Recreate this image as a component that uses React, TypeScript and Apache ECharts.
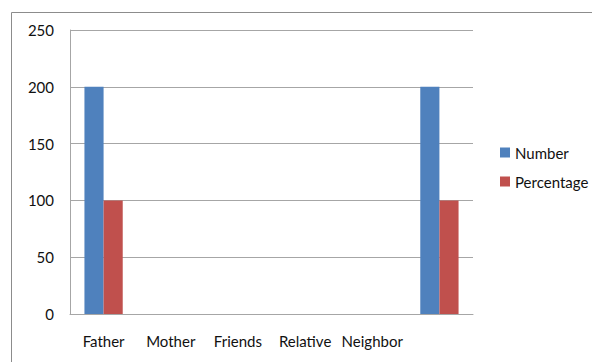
import React, { useEffect, useRef } from "react";
import * as echarts from "echarts";

const categories = ["Father", "Mother", "Friends", "Relative", "Neighbor", ""];
const numberValues = [200, 0, 0, 0, 0, 200];
const percentageValues = [100, 0, 0, 0, 0, 100];
const yTicks = { min: 0, max: 250, interval: 50 };

const FONT = "Lato, 'Open Sans', sans-serif";
const TEXT = "#111111";

export default function App() {
  const ref = useRef<HTMLDivElement>(null);

  useEffect(() => {
    if (!ref.current) return;
    const chart = echarts.init(ref.current, undefined, { renderer: "svg" });
    chart.setOption({
      animation: false,
      backgroundColor: "#ffffff",
      textStyle: { fontFamily: FONT },
      graphic: [
        {
          type: "rect",
          shape: { x: 11.5, y: 12.5, width: 600, height: 400 },
          style: { fill: "none", stroke: "#8c8c8c", lineWidth: 1 },
          silent: true,
          z: -1,
        },
      ],
      grid: { left: 70, top: 30, width: 403, height: 284, containLabel: false },
      legend: {
        orient: "vertical",
        left: 500,
        top: 145,
        padding: 0,
        itemWidth: 10,
        itemHeight: 10,
        itemGap: 14,
        icon: "rect",
        textStyle: { fontFamily: FONT, fontSize: 15, color: TEXT },
        data: ["Number", "Percentage"],
      },
      xAxis: {
        type: "category",
        data: categories,
        axisLine: { show: true, lineStyle: { color: "#a6a6a6", width: 1 } },
        axisTick: { show: false },
        axisLabel: { fontFamily: FONT, fontSize: 15, color: TEXT, margin: 19, interval: 0 },
      },
      yAxis: {
        type: "value",
        min: yTicks.min,
        max: yTicks.max,
        interval: yTicks.interval,
        axisLine: { show: true, lineStyle: { color: "#a6a6a6", width: 1 } },
        axisTick: { show: false },
        axisLabel: { fontFamily: FONT, fontSize: 15, color: TEXT, margin: 16 },
        splitLine: { show: true, lineStyle: { color: "#a6a6a6", width: 1 } },
      },
      series: [
        {
          name: "Number",
          type: "bar",
          data: numberValues,
          itemStyle: { color: "#4f81bd" },
          barGap: "0%",
          barCategoryGap: "43%",
        },
        {
          name: "Percentage",
          type: "bar",
          data: percentageValues,
          itemStyle: { color: "#c0504d" },
          barGap: "0%",
          barCategoryGap: "43%",
        },
      ],
    });
    return () => chart.dispose();
  }, []);

  return (
    <div
      ref={ref}
      style={{ position: "absolute", left: 0, top: 0, width: 592, height: 362 }}
    />
  );
}
